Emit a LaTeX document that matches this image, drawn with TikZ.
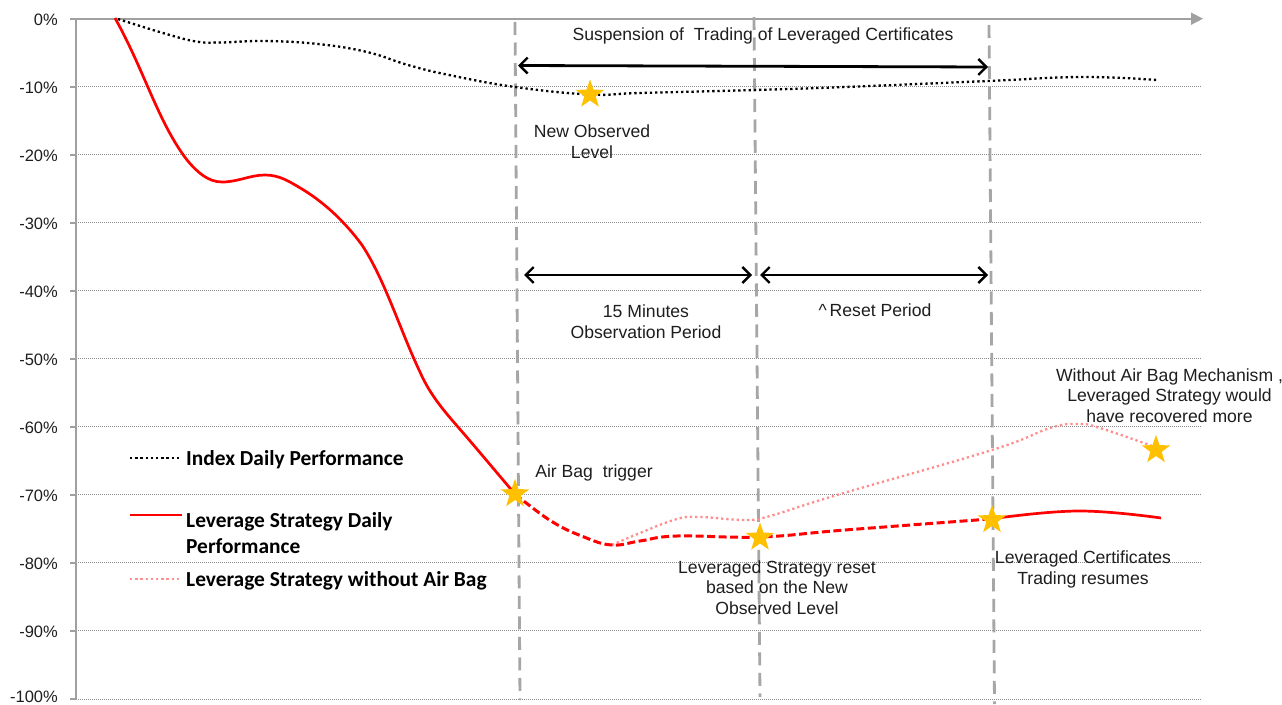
\documentclass[tikz,border=0pt]{standalone}
\usepackage{fontspec}
\setmainfont{Liberation Sans}
\newfontfamily\legendfont{Carlito}
\usetikzlibrary{arrows.meta,shapes.geometric}
\definecolor{axisgray}{HTML}{A0A0A0}
\definecolor{gridgray}{HTML}{8C8C8C}
\definecolor{vgray}{HTML}{A6A6A6}
\definecolor{stargold}{HTML}{FFC000}
\definecolor{pinkline}{HTML}{FF8F8F}
\definecolor{txt}{HTML}{1E1E1E}
\tikzset{
 x=1pt,y=-1pt,
 gridline/.style={gridgray,line width=1pt,dash pattern=on 1pt off 1pt},
 axisline/.style={axisgray,line width=1.6pt},
 vdash/.style={vgray,line width=2.8pt,dash pattern=on 13pt off 7.5pt},
 span/.style={black,line width=2.8pt,{Straight Barb[length=8pt,width=16pt,line width=2.4pt]}-{Straight Barb[length=8pt,width=16pt,line width=2.4pt]}},
 indexcurve/.style={black,line width=2.3pt,dash pattern=on 2.3pt off 2.9pt},
 redsolid/.style={red,line width=2.7pt,line join=round},
 reddash/.style={red,line width=3pt,dash pattern=on 8pt off 3.5pt},
 pinkcurve/.style={pinkline,line width=2.3pt,dash pattern=on 2.3pt off 2.9pt},
 starmark/.style={star,star points=5,star point ratio=2.5,fill=stargold,draw=none,minimum size=30pt,inner sep=0pt},
 ticklabel/.style={anchor=east,inner sep=0pt,text=txt,font=\fontsize{16.5}{20}\selectfont},
 note/.style={align=center,inner sep=0pt,text=txt,font=\fontsize{17.6}{20.6}\selectfont},
 legendtext/.style={anchor=west,align=left,inner sep=0pt,font=\legendfont\bfseries\fontsize{21.4}{26}\selectfont},
}
\begin{document}
\begin{tikzpicture}
\useasboundingbox[fill=white] (0,0) rectangle (1282,704);
% gridlines and ticks
\foreach \i/\lab in {1/-10,2/-20,3/-30,4/-40,5/-50,6/-60,7/-70,8/-80,9/-90}{
  \coordinate (gl\i) at (76,18.7+68.03*\i);
  \coordinate (gr\i) at (1201,18.7+68.03*\i);
  \draw[gridline] (gl\i) -- (gr\i);
  \draw[axisline] (70,18.7+68.03*\i) -- (gl\i);
  \node[ticklabel] (tick\i) at (58,20+68.03*\i) {\lab\%};
}
\coordinate (gl10) at (76,699);
\coordinate (gr10) at (1201,699);
\draw[gridline] (gl10) -- (gr10);
\draw[axisline] (70,699) -- (gl10);
\node[ticklabel] (tick10) at (58,697) {-100\%};
\node[ticklabel] (tick0) at (58,19.5) {0\%};
% axes
\coordinate (orig) at (76,18.7);
\coordinate (axisend) at (1203,18.7);
\coordinate (axisbot) at (76,700);
\draw[axisline] (70,18.7) -- (orig);
\draw[axisline] (orig) -- (axisbot);
\draw[axisline,-{Triangle[length=12pt,width=12pt,fill=axisgray]}] (orig) -- (axisend);
% vertical dashed markers
\coordinate (v1t) at (515,22);   \coordinate (v1b) at (520,700);
\coordinate (v2t) at (754,17);   \coordinate (v2b) at (760,697);
\coordinate (v3t) at (989,25);   \coordinate (v3b) at (994.5,704);
\draw[vdash] (v1t) -- (v1b);
\draw[vdash] (v2t) -- (v2b);
\draw[vdash] (v3t) -- (v3b);
% span arrows
\coordinate (a1l) at (518,65.5); \coordinate (a1r) at (988,67);
\coordinate (a2l) at (524,275);  \coordinate (a2r) at (752,275);
\coordinate (a3l) at (760,275);  \coordinate (a3r) at (988,275);
\draw[span] (a1l) -- (a1r);
\draw[span] (a2l) -- (a2r);
\draw[span] (a3l) -- (a3r);
% curves
\draw[indexcurve] plot[smooth,tension=0.7] coordinates {(118,19) (163,33) (196,41.5) (220,42.5) (265,41) (318,44) (367,52) (408,65) (449,75) (515,87) (590,94.5) (640,93) (755,90) (845,87) (988,81) (1082,77) (1157,80)};
\draw[pinkcurve] plot[smooth,tension=0.7] coordinates {(612,545) (640,533) (677,519) (700,517) (745,520) (770,516) (837,495) (992,450) (1050,428) (1078,424) (1100,428) (1155,447)};
\draw[redsolid] (115,18) .. controls (145,72) and (158,122) .. (187,160)
  .. controls (197,172) and (208,182) .. (222,182)
  .. controls (238,182) and (250,175) .. (265,175)
  .. controls (280,175) and (290,182) .. (302,189)
  .. controls (325,203) and (345,222) .. (362,245)
  .. controls (385,280) and (400,330) .. (420,372)
  .. controls (430,395) and (445,412) .. (458,427)
  .. controls (478,450) and (497,473) .. (515,494);
\draw[reddash] plot[smooth,tension=0.7] coordinates {(515,494) (551,521) (584,537) (612,545) (640,541) (677,536) (760,537) (845,530) (990,519)};
\draw[redsolid] plot[smooth,tension=0.7] coordinates {(990,519) (1078,511) (1161,518)};
% annotations
\node[note] (n1) at (763,36) {Suspension of\ \ Trading of Leveraged Certificates};
\node[note] (n2) at (592,141.5) {New Observed\\Level};
\node[note] (n3) at (646,321.5) {15 Minutes\\Observation Period};
\node[note] (n4) at (875,310.5) {\^{}\,Reset Period};
\node[note] (n5) at (594,473) {Air Bag\ \ trigger};
\node[note] (n6) at (777,587.5) {Leveraged Strategy reset\\based on the New\\Observed Level};
\node[note] (n7) at (1083,569.5) {Leveraged Certificates\\Trading resumes};
\node[note] (n8) at (1169.5,395.5) {Without Air Bag Mechanism ,\\Leveraged Strategy would\\have recovered more};
% stars
\node[starmark] (s1) at (590,94.5) {};
\node[starmark] (s2) at (515,494) {};
\node[starmark] (s3) at (760,537.5) {};
\node[starmark] (s4) at (992,520) {};
\node[starmark] (s5) at (1156,450) {};
% legend
\coordinate (l1a) at (130,458); \coordinate (l1b) at (180,458);
\coordinate (l2a) at (130,515); \coordinate (l2b) at (182,515);
\coordinate (l3a) at (130,579); \coordinate (l3b) at (180,579);
\draw[indexcurve] (l1a) -- (l1b);
\draw[redsolid] (l2a) -- (l2b);
\draw[pinkcurve] (l3a) -- (l3b);
\node[legendtext] (t1) at (186,459.5) {Index Daily Performance};
\node[legendtext] (t2) at (186,533) {Leverage Strategy Daily\\Performance};
\node[legendtext] (t3) at (186,580.5) {Leverage Strategy without Air Bag};
\end{tikzpicture}
\end{document}
